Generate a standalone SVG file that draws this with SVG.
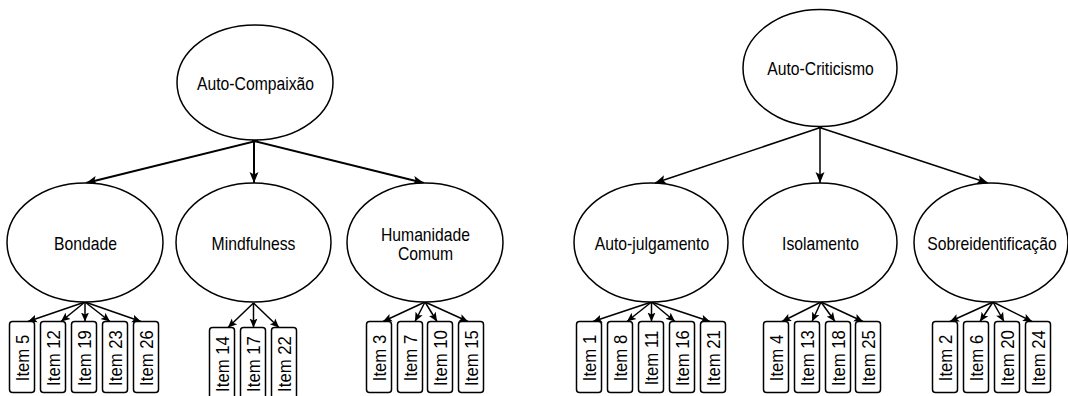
<svg xmlns="http://www.w3.org/2000/svg" width="1068" height="396" viewBox="0 0 1068 396">
  <style>
    .bg { fill: #ffffff; }
    .node ellipse { fill: #ffffff; stroke: #000000; stroke-width: 1.5; }
    .item rect { fill: #ffffff; stroke: #000000; stroke-width: 1.5; }
    text { font-family: "Liberation Sans", Arial, sans-serif; fill: #000000; text-anchor: middle; }
    .lbl { font-size: 18.5px; }
    .itm { font-size: 18px; }
    .edges path { fill: none; stroke: #000000; }
    .top-l path { stroke-width: 2; marker-end: url(#headL); }
    .top-r path { stroke-width: 1.5; marker-end: url(#headL); }
    .sub path { stroke-width: 1.5; marker-end: url(#headS); }
  </style>
  <defs>
    <marker id="headL" markerUnits="userSpaceOnUse" markerWidth="12" markerHeight="10" refX="11" refY="5" orient="auto">
      <path d="M0,0.5 L11,5 L0,9.5 L2.5,5 Z" fill="#000000"/>
    </marker>
    <marker id="headS" markerUnits="userSpaceOnUse" markerWidth="10" markerHeight="9" refX="9" refY="4.5" orient="auto">
      <path d="M0,0.5 L9,4.5 L0,8.5 L2,4.5 Z" fill="#000000"/>
    </marker>
  </defs>
  <rect class="bg" x="0" y="0" width="1068" height="396"/>

  <!-- connectors -->
  <g id="connectors" class="edges">
    <g class="top-l">
      <path d="M258,140.5 L86,183"/>
      <path d="M254,140.5 L254,183"/>
      <path d="M252,140.5 L424,183"/>
    </g>
    <g class="top-r">
      <path d="M822,127 L655,183"/>
      <path d="M820,127 L820,183"/>
      <path d="M818,127 L988,183"/>
    </g>
    <g class="sub">
      <!-- Bondade -->
      <path d="M85,302 L28,321.5"/>
      <path d="M85,302 L61,321.5"/>
      <path d="M85,302 L85,321.5"/>
      <path d="M85,302 L110,321.5"/>
      <path d="M85,302 L141,321.5"/>
      <!-- Mindfulness -->
      <path d="M253.5,303 L228,327.5"/>
      <path d="M253.5,303 L253.5,327.5"/>
      <path d="M253.5,303 L279,327.5"/>
      <!-- Humanidade Comum -->
      <path d="M425,302 L383,321.5"/>
      <path d="M425,302 L415,321.5"/>
      <path d="M425,302 L437,321.5"/>
      <path d="M425,302 L468,321.5"/>
      <!-- Auto-julgamento -->
      <path d="M651.5,302 L593,321.5"/>
      <path d="M651.5,302 L627,321.5"/>
      <path d="M651.5,302 L651.5,321.5"/>
      <path d="M651.5,302 L675,321.5"/>
      <path d="M651.5,302 L710,321.5"/>
      <!-- Isolamento -->
      <path d="M821,302 L782,321.5"/>
      <path d="M821,302 L812,321.5"/>
      <path d="M821,302 L835,321.5"/>
      <path d="M821,302 L863,321.5"/>
      <!-- Sobreidentificação -->
      <path d="M993,302 L950,321.5"/>
      <path d="M993,302 L980,321.5"/>
      <path d="M993,302 L1004,321.5"/>
      <path d="M993,302 L1032,321.5"/>
    </g>
  </g>

  <!-- top-level factors -->
  <g id="auto-compaixao" class="node">
    <ellipse cx="255" cy="82.5" rx="78" ry="57.5"/>
    <text class="lbl" transform="translate(255.5 90) scale(0.85 1)">Auto-Compaixão</text>
  </g>
  <g id="auto-criticismo" class="node">
    <ellipse cx="820" cy="68" rx="77" ry="58.5"/>
    <text class="lbl" transform="translate(820.5 74.5) scale(0.85 1)">Auto-Criticismo</text>
  </g>

  <!-- subscales -->
  <g id="bondade" class="node">
    <ellipse cx="85" cy="242.5" rx="78" ry="59.5"/>
    <text class="lbl" transform="translate(85.5 250) scale(0.85 1)">Bondade</text>
  </g>
  <g id="mindfulness" class="node">
    <ellipse cx="253.5" cy="242.5" rx="77.5" ry="59.5"/>
    <text class="lbl" transform="translate(253.5 250) scale(0.85 1)">Mindfulness</text>
  </g>
  <g id="humanidade-comum" class="node">
    <ellipse cx="425" cy="242.5" rx="78" ry="59.5"/>
    <text class="lbl" transform="translate(425.5 240.5) scale(0.85 1)">Humanidade</text>
    <text class="lbl" transform="translate(425.5 260) scale(0.85 1)">Comum</text>
  </g>
  <g id="auto-julgamento" class="node">
    <ellipse cx="651" cy="242.5" rx="77" ry="59.5"/>
    <text class="lbl" transform="translate(652 250) scale(0.85 1)">Auto-julgamento</text>
  </g>
  <g id="isolamento" class="node">
    <ellipse cx="820" cy="242.5" rx="77" ry="59.5"/>
    <text class="lbl" transform="translate(820.5 250) scale(0.85 1)">Isolamento</text>
  </g>
  <g id="sobreidentificacao" class="node">
    <ellipse cx="991" cy="242.5" rx="77" ry="59.5"/>
    <text class="lbl" transform="translate(992 250) scale(0.85 1)">Sobreidentificação</text>
  </g>

  <!-- items: Bondade -->
  <g id="item-5" class="item"><rect x="9.5" y="321.5" width="25" height="71" rx="3"/><text class="itm" transform="translate(22 358) rotate(-90) scale(0.93 1)" y="6.5">Item 5</text></g>
  <g id="item-12" class="item"><rect x="40.5" y="321.5" width="25" height="71" rx="3"/><text class="itm" transform="translate(53 358) rotate(-90) scale(0.93 1)" y="6.5">Item 12</text></g>
  <g id="item-19" class="item"><rect x="71.5" y="321.5" width="25" height="71" rx="3"/><text class="itm" transform="translate(84 358) rotate(-90) scale(0.93 1)" y="6.5">Item 19</text></g>
  <g id="item-23" class="item"><rect x="102.5" y="321.5" width="25" height="71" rx="3"/><text class="itm" transform="translate(115 358) rotate(-90) scale(0.93 1)" y="6.5">Item 23</text></g>
  <g id="item-26" class="item"><rect x="133.5" y="321.5" width="25" height="71" rx="3"/><text class="itm" transform="translate(146 358) rotate(-90) scale(0.93 1)" y="6.5">Item 26</text></g>

  <!-- items: Mindfulness -->
  <g id="item-14" class="item"><rect x="209.5" y="327.5" width="25" height="71" rx="3"/><text class="itm" transform="translate(222 364) rotate(-90) scale(0.93 1)" y="6.5">Item 14</text></g>
  <g id="item-17" class="item"><rect x="240.5" y="327.5" width="25" height="71" rx="3"/><text class="itm" transform="translate(253 364) rotate(-90) scale(0.93 1)" y="6.5">Item 17</text></g>
  <g id="item-22" class="item"><rect x="271.5" y="327.5" width="25" height="71" rx="3"/><text class="itm" transform="translate(284 364) rotate(-90) scale(0.93 1)" y="6.5">Item 22</text></g>

  <!-- items: Humanidade Comum -->
  <g id="item-3" class="item"><rect x="366.5" y="321.5" width="25" height="71" rx="3"/><text class="itm" transform="translate(379 358) rotate(-90) scale(0.93 1)" y="6.5">Item 3</text></g>
  <g id="item-7" class="item"><rect x="397.5" y="321.5" width="25" height="71" rx="3"/><text class="itm" transform="translate(410 358) rotate(-90) scale(0.93 1)" y="6.5">Item 7</text></g>
  <g id="item-10" class="item"><rect x="427.5" y="321.5" width="25" height="71" rx="3"/><text class="itm" transform="translate(440 358) rotate(-90) scale(0.93 1)" y="6.5">Item 10</text></g>
  <g id="item-15" class="item"><rect x="458.5" y="321.5" width="25" height="71" rx="3"/><text class="itm" transform="translate(471 358) rotate(-90) scale(0.93 1)" y="6.5">Item 15</text></g>

  <!-- items: Auto-julgamento -->
  <g id="item-1" class="item"><rect x="576.5" y="321.5" width="25" height="71" rx="3"/><text class="itm" transform="translate(589 358) rotate(-90) scale(0.93 1)" y="6.5">Item 1</text></g>
  <g id="item-8" class="item"><rect x="607.5" y="321.5" width="25" height="71" rx="3"/><text class="itm" transform="translate(620 358) rotate(-90) scale(0.93 1)" y="6.5">Item 8</text></g>
  <g id="item-11" class="item"><rect x="638.5" y="321.5" width="25" height="71" rx="3"/><text class="itm" transform="translate(651 358) rotate(-90) scale(0.93 1)" y="6.5">Item 11</text></g>
  <g id="item-16" class="item"><rect x="669.5" y="321.5" width="25" height="71" rx="3"/><text class="itm" transform="translate(682 358) rotate(-90) scale(0.93 1)" y="6.5">Item 16</text></g>
  <g id="item-21" class="item"><rect x="700.5" y="321.5" width="25" height="71" rx="3"/><text class="itm" transform="translate(713 358) rotate(-90) scale(0.93 1)" y="6.5">Item 21</text></g>

  <!-- items: Isolamento -->
  <g id="item-4" class="item"><rect x="763.5" y="321.5" width="25" height="71" rx="3"/><text class="itm" transform="translate(776 358) rotate(-90) scale(0.93 1)" y="6.5">Item 4</text></g>
  <g id="item-13" class="item"><rect x="794.5" y="321.5" width="25" height="71" rx="3"/><text class="itm" transform="translate(807 358) rotate(-90) scale(0.93 1)" y="6.5">Item 13</text></g>
  <g id="item-18" class="item"><rect x="825.5" y="321.5" width="25" height="71" rx="3"/><text class="itm" transform="translate(838 358) rotate(-90) scale(0.93 1)" y="6.5">Item 18</text></g>
  <g id="item-25" class="item"><rect x="855.5" y="321.5" width="25" height="71" rx="3"/><text class="itm" transform="translate(868 358) rotate(-90) scale(0.93 1)" y="6.5">Item 25</text></g>

  <!-- items: Sobreidentificação -->
  <g id="item-2" class="item"><rect x="932.5" y="321.5" width="25" height="71" rx="3"/><text class="itm" transform="translate(945 358) rotate(-90) scale(0.93 1)" y="6.5">Item 2</text></g>
  <g id="item-6" class="item"><rect x="963.5" y="321.5" width="25" height="71" rx="3"/><text class="itm" transform="translate(976 358) rotate(-90) scale(0.93 1)" y="6.5">Item 6</text></g>
  <g id="item-20" class="item"><rect x="994.5" y="321.5" width="25" height="71" rx="3"/><text class="itm" transform="translate(1007 358) rotate(-90) scale(0.93 1)" y="6.5">Item 20</text></g>
  <g id="item-24" class="item"><rect x="1025.5" y="321.5" width="25" height="71" rx="3"/><text class="itm" transform="translate(1038 358) rotate(-90) scale(0.93 1)" y="6.5">Item 24</text></g>
</svg>
